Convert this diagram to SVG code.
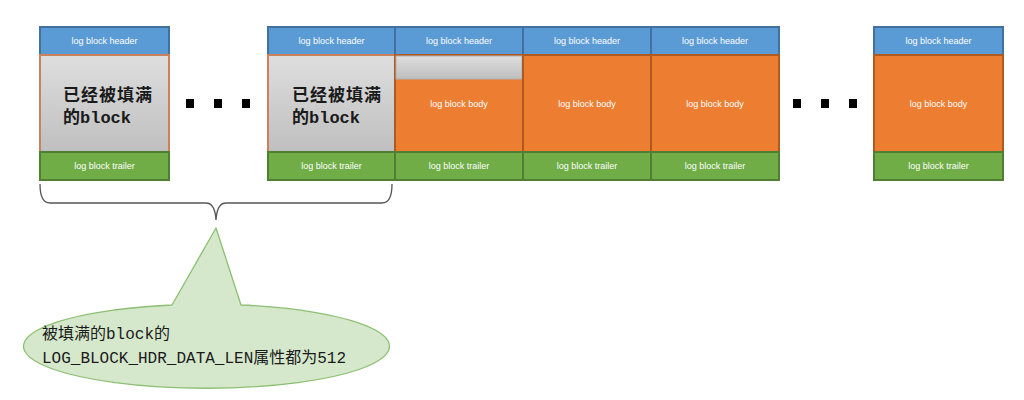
<svg xmlns="http://www.w3.org/2000/svg" width="1024" height="400" viewBox="0 0 1024 400">
<defs>
<linearGradient id="gray" x1="0" y1="0" x2="0" y2="1">
<stop offset="0" stop-color="#dedede"/>
<stop offset="1" stop-color="#bfbfbf"/>
</linearGradient>
<style>
.hdr{fill:#5b9bd5;stroke:#41719c;stroke-width:2}
.body{fill:#ed7d31;stroke:#ae5a21;stroke-width:2}
.grayb{fill:url(#gray);stroke:#c9825c;stroke-width:2}
.trl{fill:#70ad47;stroke:#507e32;stroke-width:2}
.lbl{font-family:"Liberation Sans",Arial,sans-serif;font-size:9px;fill:#ffffff;text-anchor:middle}
.big{font-family:"Liberation Mono","Noto Sans CJK SC",monospace;font-size:17px;font-weight:bold;fill:#1a1a1a}
.note{font-family:"Liberation Mono","Noto Sans CJK SC",monospace;font-size:16px;fill:#1a1a1a}
.dot{fill:#000000}
</style>
</defs>
<rect width="1024" height="400" fill="#ffffff"/>

<g id="block-filled-1">
<rect class="hdr" x="40" y="27" width="129" height="28"/>
<text class="lbl" x="104.5" y="44">log block header</text>
<rect class="grayb" x="40" y="55" width="129" height="97"/>
<text class="big" x="63" y="101" letter-spacing="1">已经被填满</text>
<text class="big" x="63" y="123">的block</text>
<rect class="trl" x="40" y="152" width="129" height="28"/>
<text class="lbl" x="104.5" y="169">log block trailer</text>
</g>

<g id="dots-1">
<rect class="dot" x="186" y="99" width="8" height="9"/>
<rect class="dot" x="214" y="99" width="8" height="9"/>
<rect class="dot" x="242" y="99" width="8" height="9"/>
</g>

<g id="block-filled-2">
<rect class="hdr" x="268" y="27" width="127" height="28"/>
<text class="lbl" x="331.5" y="44">log block header</text>
<rect class="grayb" x="268" y="55" width="127" height="97"/>
<text class="big" x="292" y="101" letter-spacing="1">已经被填满</text>
<text class="big" x="292" y="123">的block</text>
<rect class="trl" x="268" y="152" width="127" height="28"/>
<text class="lbl" x="331.5" y="169">log block trailer</text>
</g>

<g id="block-partial">
<rect class="hdr" x="395" y="27" width="128" height="28"/>
<text class="lbl" x="459" y="44">log block header</text>
<rect class="body" x="395" y="55" width="128" height="97"/>
<rect x="396" y="56" width="126" height="23" fill="url(#gray)" stroke="#b0b0b0" stroke-width="1"/>
<text class="lbl" x="459" y="107">log block body</text>
<rect class="trl" x="395" y="152" width="128" height="28"/>
<text class="lbl" x="459" y="169">log block trailer</text>
</g>

<g id="block-3">
<rect class="hdr" x="523" y="27" width="128" height="28"/>
<text class="lbl" x="587" y="44">log block header</text>
<rect class="body" x="523" y="55" width="128" height="97"/>
<text class="lbl" x="587" y="107">log block body</text>
<rect class="trl" x="523" y="152" width="128" height="28"/>
<text class="lbl" x="587" y="169">log block trailer</text>
</g>

<g id="block-4">
<rect class="hdr" x="651" y="27" width="128" height="28"/>
<text class="lbl" x="715" y="44">log block header</text>
<rect class="body" x="651" y="55" width="128" height="97"/>
<text class="lbl" x="715" y="107">log block body</text>
<rect class="trl" x="651" y="152" width="128" height="28"/>
<text class="lbl" x="715" y="169">log block trailer</text>
</g>

<g id="dots-2">
<rect class="dot" x="793" y="99" width="8" height="9"/>
<rect class="dot" x="821" y="99" width="8" height="9"/>
<rect class="dot" x="849" y="99" width="8" height="9"/>
</g>

<g id="block-last">
<rect class="hdr" x="874" y="27" width="129" height="28"/>
<text class="lbl" x="938.5" y="44">log block header</text>
<rect class="body" x="874" y="55" width="129" height="97"/>
<text class="lbl" x="938.5" y="107">log block body</text>
<rect class="trl" x="874" y="152" width="129" height="28"/>
<text class="lbl" x="938.5" y="169">log block trailer</text>
</g>

<g id="connectors">
<path d="M40,184 Q40,203 50,203 L206,203 Q215,203 216,220 Q217,203 226,203 L382,203 Q392,203 392,184" fill="none" stroke="#555555" stroke-width="1.3"/>
</g>

<g id="callout">
<path d="M216,228 L241,305 A183,42 0 1 1 172,305 Z" fill="#d5e8cc" stroke="#8dbf72" stroke-width="1.3" stroke-linejoin="round"/>
<text class="note" x="42" y="339">被填满的block的</text>
<text class="note" x="42" y="363">LOG_BLOCK_HDR_DATA_LEN属性都为512</text>
</g>
</svg>
